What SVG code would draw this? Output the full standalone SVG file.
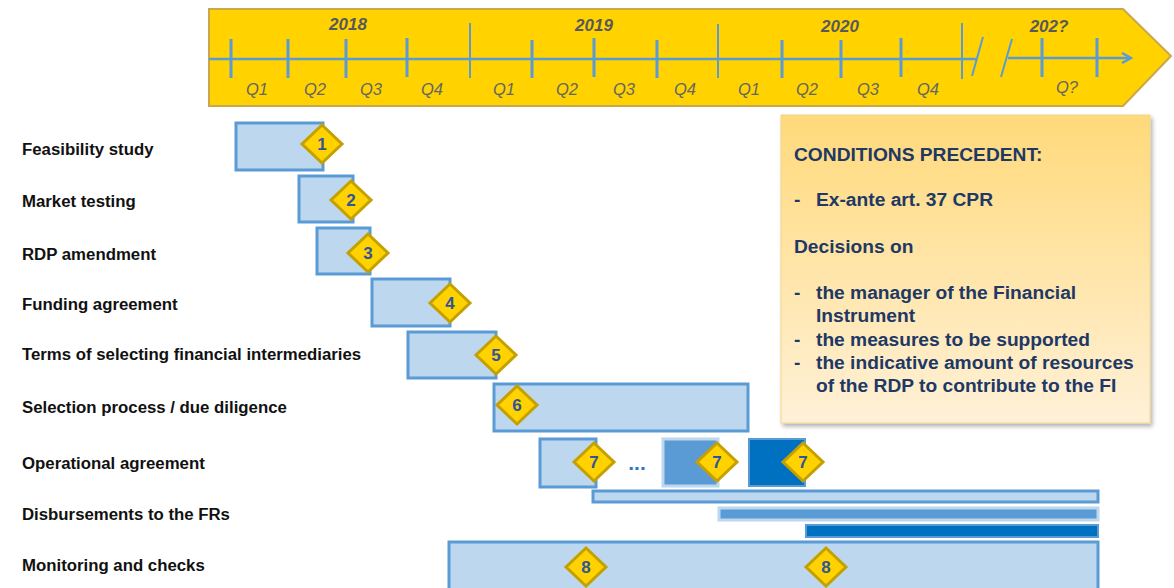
<svg xmlns="http://www.w3.org/2000/svg" xmlns:xlink="http://www.w3.org/1999/xlink" width="1174" height="588" viewBox="0 0 1174 588">
<style>
.lbl{font-family:"Liberation Sans",Arial,sans-serif;font-weight:bold;font-size:16.8px;fill:#111}
.q{font-family:"Liberation Sans",Arial,sans-serif;font-style:italic;font-size:16.5px;fill:#666;text-anchor:middle}
.yr{font-family:"Liberation Sans",Arial,sans-serif;font-style:italic;font-weight:bold;font-size:17px;fill:#595959;text-anchor:middle}
.tick{stroke:#5B9BD5;stroke-width:3}
.ytick{stroke:#5B9BD5;stroke-width:2}
.bar{fill:#BDD7EE;stroke:#5B9BD5;stroke-width:3}
.bar2{fill:#5B9BD5;stroke:#BDD7EE;stroke-width:3}
.bar3{fill:#0070C0;stroke:#5B9BD5;stroke-width:2}
.dia{fill:#FFD200;stroke:#C4A000;stroke-width:3;stroke-linejoin:miter}
.num{font-family:"Liberation Sans",Arial,sans-serif;font-weight:bold;font-size:17px;fill:#2F5597;text-anchor:middle}
.ct{font-family:"Liberation Sans",Arial,sans-serif;font-weight:bold;font-size:19.2px;fill:#203864}
</style>
<defs>
<path id="dm" class="dia" d="M0,-19 L20,0 L0,19 L-20,0Z"/>
<linearGradient id="cg" x1="0" y1="0" x2="0" y2="1">
<stop offset="0" stop-color="#FFD97A"/>
<stop offset="1" stop-color="#FFF1D8"/>
</linearGradient>
<filter id="sh" x="-5%" y="-5%" width="112%" height="112%">
<feDropShadow dx="2" dy="3" stdDeviation="2" flood-color="#000" flood-opacity="0.3"/>
</filter>
<marker id="ah" markerWidth="12" markerHeight="12" refX="10" refY="6" orient="auto" markerUnits="userSpaceOnUse">
<path d="M1,1 L10,6 L1,11" fill="none" stroke="#5B9BD5" stroke-width="2.5"/>
</marker>
</defs>

<g id="timeline">
<path d="M209,9 L1123,9 L1171,56 L1123,106 L209,106 Z" fill="#FFD200" stroke="#C9A74A" stroke-width="2"/>
<line x1="209" y1="59" x2="977" y2="59" stroke="#5B9BD5" stroke-width="2.5"/>
<line x1="1008" y1="58" x2="1131" y2="58" stroke="#5B9BD5" stroke-width="2.5" marker-end="url(#ah)"/>
<line x1="983" y1="37" x2="972" y2="76" stroke="#5B9BD5" stroke-width="2"/>
<line x1="1012" y1="39" x2="1001" y2="77" stroke="#5B9BD5" stroke-width="2"/>
<g class="tick">
<line x1="231" y1="39" x2="231" y2="78"/>
<line x1="288" y1="39" x2="288" y2="78"/>
<line x1="346" y1="39" x2="346" y2="78"/>
<line x1="407" y1="38" x2="407" y2="77"/>
<line x1="532" y1="40" x2="532" y2="78"/>
<line x1="594" y1="38" x2="594" y2="77"/>
<line x1="657" y1="40" x2="657" y2="78"/>
<line x1="782" y1="40" x2="782" y2="78"/>
<line x1="841" y1="40" x2="841" y2="78"/>
<line x1="901" y1="38" x2="901" y2="77"/>
<line x1="1042" y1="38" x2="1042" y2="77"/>
<line x1="1097" y1="38" x2="1097" y2="77"/>
</g>
<g class="ytick">
<line x1="470" y1="23" x2="470" y2="78"/>
<line x1="718" y1="24" x2="718" y2="78"/>
<line x1="962" y1="23" x2="962" y2="79"/>
</g>
<text class="yr" x="348" y="30">2018</text>
<text class="yr" x="594" y="31">2019</text>
<text class="yr" x="840" y="32">2020</text>
<text class="yr" x="1049" y="32">202?</text>
<text class="q" x="257" y="95">Q1</text>
<text class="q" x="315" y="95">Q2</text>
<text class="q" x="371" y="95">Q3</text>
<text class="q" x="432" y="95">Q4</text>
<text class="q" x="504" y="95">Q1</text>
<text class="q" x="567" y="95">Q2</text>
<text class="q" x="624" y="95">Q3</text>
<text class="q" x="685" y="95">Q4</text>
<text class="q" x="749" y="95">Q1</text>
<text class="q" x="807" y="95">Q2</text>
<text class="q" x="868" y="95">Q3</text>
<text class="q" x="928" y="95">Q4</text>
<text class="q" x="1067" y="93">Q?</text>
</g>

<g id="labels">
<text class="lbl" x="22" y="155">Feasibility study</text>
<text class="lbl" x="22" y="207">Market testing</text>
<text class="lbl" x="22" y="260">RDP amendment</text>
<text class="lbl" x="22" y="310">Funding agreement</text>
<text class="lbl" x="22" y="360">Terms of selecting financial intermediaries</text>
<text class="lbl" x="22" y="413">Selection process / due diligence</text>
<text class="lbl" x="22" y="469">Operational agreement</text>
<text class="lbl" x="22" y="520">Disbursements to the FRs</text>
<text class="lbl" x="22" y="571">Monitoring and checks</text>
</g>

<g id="n1"><rect class="bar" x="236" y="123" width="87" height="47"/><use xlink:href="#dm" x="322" y="144"/><text class="num" x="322" y="150">1</text></g>
<g id="n2"><rect class="bar" x="299" y="176" width="54" height="46"/><use xlink:href="#dm" x="351" y="200"/><text class="num" x="351" y="206">2</text></g>
<g id="n3"><rect class="bar" x="317" y="228" width="53" height="46"/><use xlink:href="#dm" x="368" y="253"/><text class="num" x="368" y="259">3</text></g>
<g id="n4"><rect class="bar" x="372" y="279" width="78" height="47"/><use xlink:href="#dm" x="450" y="303"/><text class="num" x="450" y="309">4</text></g>
<g id="n5"><rect class="bar" x="408" y="332" width="88" height="46"/><use xlink:href="#dm" x="496" y="355"/><text class="num" x="496" y="361">5</text></g>
<g id="n6"><rect class="bar" x="494" y="384" width="254" height="47"/><use xlink:href="#dm" x="517" y="405"/><text class="num" x="517" y="411">6</text></g>
<g id="n7">
<rect class="bar" x="540" y="439" width="56" height="48"/><use xlink:href="#dm" x="594" y="462"/><text class="num" x="594" y="468">7</text>
<text x="637" y="470" font-family="Liberation Sans,Arial,sans-serif" font-weight="bold" font-size="21" fill="#2F75C0" text-anchor="middle">...</text>
<rect class="bar2" x="663" y="439" width="55" height="47"/><use xlink:href="#dm" x="717" y="462"/><text class="num" x="717" y="468">7</text>
<rect class="bar3" x="749" y="439" width="56" height="47"/><use xlink:href="#dm" x="803" y="462"/><text class="num" x="803" y="468">7</text>
</g>
<g id="n8">
<rect class="bar" x="593" y="491" width="505" height="11"/>
<rect class="bar2" x="719" y="508" width="379" height="12"/>
<rect class="bar3" x="806" y="525" width="292" height="12"/>
</g>
<g id="n9"><rect class="bar" x="449" y="542" width="649" height="60"/>
<use xlink:href="#dm" x="586" y="567"/><text class="num" x="586" y="573">8</text>
<use xlink:href="#dm" x="826" y="567"/><text class="num" x="826" y="573">8</text>
</g>

<g id="conditions">
<rect x="781" y="115" width="369" height="308" fill="url(#cg)" stroke="#F2D68A" stroke-width="1" filter="url(#sh)"/>
<text class="ct" x="794" y="161">CONDITIONS PRECEDENT:</text>
<text class="ct" x="794" y="206">-</text><text class="ct" x="816" y="206">Ex-ante art. 37 CPR</text>
<text class="ct" x="794" y="253">Decisions on</text>
<text class="ct" x="794" y="299">-</text><text class="ct" x="816" y="299">the manager of the Financial</text>
<text class="ct" x="816" y="322">Instrument</text>
<text class="ct" x="794" y="346">-</text><text class="ct" x="816" y="346">the measures to be supported</text>
<text class="ct" x="794" y="369">-</text><text class="ct" x="816" y="369">the indicative amount of resources</text>
<text class="ct" x="816" y="392">of the RDP to contribute to the FI</text>
</g>
<g id="connectors"/>
</svg>
